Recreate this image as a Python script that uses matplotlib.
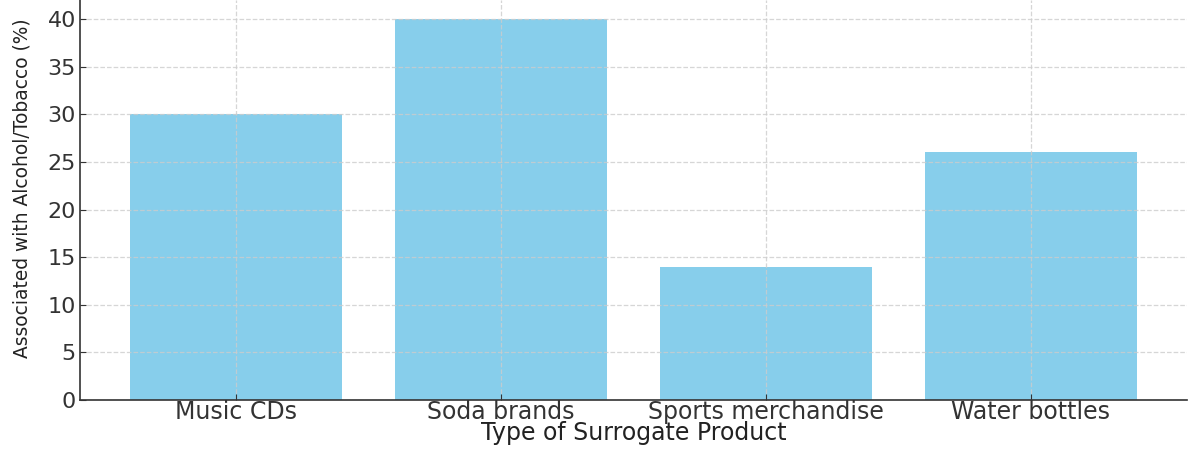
import matplotlib
matplotlib.use('Agg')
import matplotlib.pyplot as plt

# data
products = ["Music CDs", "Soda brands", "Sports merchandise", "Water bottles"]
percent_associated = [30, 40, 14, 26]

fig = plt.figure(figsize=(11.9, 4.49), dpi=100)
# axes fill almost the whole canvas (reference is cropped tight at top/right)
ax = fig.add_axes([80 / 1190, 49 / 449, 1107 / 1190, 400 / 449])

ax.bar(products, percent_associated, color="skyblue", width=0.8)
ax.set_ylim(0, 42)
ax.set_xlim(-0.59, 3.59)

ax.grid(True, linestyle="--", color="#cccccc", linewidth=0.9, alpha=0.8)
for side in ("top", "right"):
    ax.spines[side].set_visible(False)
for side in ("left", "bottom"):
    ax.spines[side].set_color("#333333")
    ax.spines[side].set_linewidth(1.2)

ax.tick_params(axis="both", direction="in", length=4, colors="#333333",
               labelsize=16, pad=3)
ax.tick_params(axis="x", labelsize=17, pad=0)
ax.set_xlabel("Type of Surrogate Product", fontsize=17, color="#222222",
              labelpad=-2)
ax.set_ylabel("Associated with Alcohol/Tobacco (%)", fontsize=13.4,
              color="#222222")
ax.yaxis.set_label_coords(-0.044, 0.53)

fig.savefig("out.png", dpi=100)
